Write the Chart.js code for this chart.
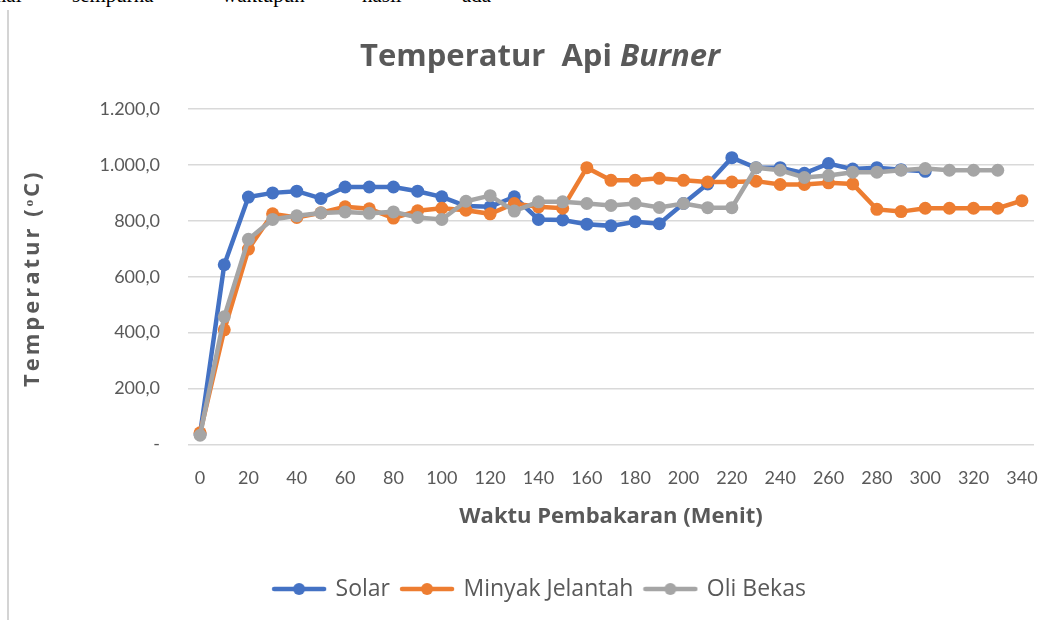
<!DOCTYPE html>
<html>
<head>
<meta charset="utf-8">
<script src="https://cdn.jsdelivr.net/npm/chart.js@4"></script>
<style>
  html, body { margin: 0; padding: 0; background: #fff; overflow: hidden; width: 1057px; height: 620px; }
  #wrap { position: absolute; left: 15px; top: 0; width: 1050px; height: 620px; }
  .border { position: absolute; left: 7px; top: 10px; width: 2px; height: 610px; background: #d4d4d4; }
  .w { position: absolute; top: -15px; font-family: "Liberation Serif", serif; font-size: 21px; line-height: 21px; color: #000; white-space: nowrap; }
</style>
</head>
<body>
<span class="w" style="left:-10px">mal</span>
<span class="w" style="left:72px">sempurna</span>
<span class="w" style="left:222px">waktupun</span>
<span class="w" style="left:362px">hasil</span>
<span class="w" style="left:462px">ada</span>
<div class="border"></div>
<div id="wrap"><canvas id="c" width="1050" height="620"></canvas></div>
<script>
const minutes = ["0","10","20","30","40","50","60","70","80","90","100","110","120","130","140","150","160","170","180","190","200","210","220","230","240","250","260","270","280","290","300","310","320","330","340"];
const solar = [38,643,885,900,906,880,921,921,921,906,886,853,850,886,805,803,788,782,797,790,862,932,1026,990,990,970,1005,985,990,983,977,null,null,null,null];
const minyakJelantah = [42,410,699,825,812,829,850,843,810,836,845,838,825,862,850,845,990,945,945,952,945,939,939,942,930,930,936,932,841,833,845,845,845,845,872];
const oliBekas = [33,457,734,805,818,828,832,827,832,812,805,870,890,835,868,868,862,855,862,848,862,847,847,990,981,955,962,974,974,981,987,981,981,981,null];
const seriesNames = ["Solar","Minyak Jelantah","Oli Bekas"];
const seriesColors = ["#4472C4","#ED7D31","#A5A5A5"];

const TXT = "#595959";
const FONT = "Lato";
const BOLDFONT = "'Open Sans'";

function legendIcon(color) {
  const c = document.createElement("canvas");
  c.width = 56; c.height = 14;
  const x = c.getContext("2d");
  x.strokeStyle = color; x.lineWidth = 4.5; x.lineCap = "round";
  x.beginPath(); x.moveTo(3, 7); x.lineTo(53, 7); x.stroke();
  x.fillStyle = color; x.beginPath(); x.arc(28, 7, 6, 0, Math.PI * 2); x.fill();
  return c;
}
const icons = seriesColors.map(legendIcon);

function fmt(v) {
  if (v === 0) return "-";
  const s = v.toFixed(1).split(".");
  return s[0].replace(/\B(?=(\d{3})+(?!\d))/g, ".") + "," + s[1];
}

const titlePlugin = {
  id: "mixedTitle",
  afterDraw(chart) {
    const ctx = chart.ctx;
    ctx.save();
    ctx.fillStyle = TXT;
    ctx.textBaseline = "middle";
    const f1 = "bold 31px " + BOLDFONT;
    const f2 = "italic bold 31px " + BOLDFONT;
    const a = "Temperatur  Api ", b = "Burner";
    ctx.font = f1; const wa = ctx.measureText(a).width;
    ctx.font = f2; const wb = ctx.measureText(b).width;
    const x0 = chart.width / 2 - (wa + wb) / 2;
    ctx.font = f1; ctx.fillText(a, x0, 57);
    ctx.font = f2; ctx.fillText(b, x0 + wa, 57);
    // y axis title
    const ca = chart.chartArea;
    ctx.translate(18, (ca.top + ca.bottom) / 2 + 1.5);
    ctx.rotate(-Math.PI / 2);
    ctx.font = "bold 22px " + BOLDFONT;
    if ("letterSpacing" in ctx) ctx.letterSpacing = "3px";
    ctx.textAlign = "center";
    ctx.fillText("Temperatur (ᵒC)", 0, 0);
    ctx.restore();
  }
};

const datasets = [solar, minyakJelantah, oliBekas].map((d, i) => ({
  label: seriesNames[i],
  data: d,
  borderColor: seriesColors[i],
  backgroundColor: seriesColors[i],
  borderWidth: 4.5,
  pointRadius: 6.5,
  pointHoverRadius: 6.5,
  pointBorderWidth: 0,
  pointStyle: "circle",
  tension: 0,
  spanGaps: false,
  order: 3 - i
}));

new Chart(document.getElementById("c"), {
  type: "line",
  data: { labels: minutes, datasets },
  plugins: [titlePlugin],
  options: {
    responsive: false,
    animation: false,
    layout: { padding: { top: 109, left: 31, right: 31, bottom: 9.5 } },
    plugins: {
      title: { display: false },
      tooltip: { enabled: false },
      legend: {
        position: "bottom",
        labels: {
          usePointStyle: true,
          pointStyleWidth: 50,
          boxHeight: 14,
          padding: 12,
          color: TXT,
          font: { family: BOLDFONT, size: 23 },
          sort: (a, b) => a.datasetIndex - b.datasetIndex,
          generateLabels(chart) {
            return chart.data.datasets.map((ds, i) => ({
              text: ds.label, datasetIndex: i, pointStyle: icons[i],
              fillStyle: ds.borderColor, strokeStyle: ds.borderColor, lineWidth: 0,
              fontColor: TXT, hidden: false
            }));
          }
        }
      }
    },
    scales: {
      x: {
        type: "category",
        offset: true,
        grid: { display: false, drawTicks: false },
        border: { display: false },
        ticks: {
          autoSkip: false, maxRotation: 0, padding: 23, color: TXT,
          font: { family: FONT, size: 18 },
          callback(v, i) { return i % 2 === 0 ? minutes[i] : ""; }
        },
        title: { display: true, text: "Waktu Pembakaran (Menit)", color: TXT,
          font: { family: BOLDFONT, size: 22, weight: "bold" }, padding: { top: 0, bottom: 35.3 } },
        afterFit(s) { s.height = 121; }
      },
      y: {
        min: 0, max: 1200,
        ticks: { stepSize: 200, padding: 28, color: TXT, font: { family: FONT, size: 18 },
          callback: (v) => fmt(v) },
        grid: { color: "#D9D9D9", lineWidth: 1.5, drawTicks: false },
        border: { display: false },
        title: { display: false },
        afterFit(s) { s.width = 142; }
      }
    }
  }
});
</script>
</body>
</html>
